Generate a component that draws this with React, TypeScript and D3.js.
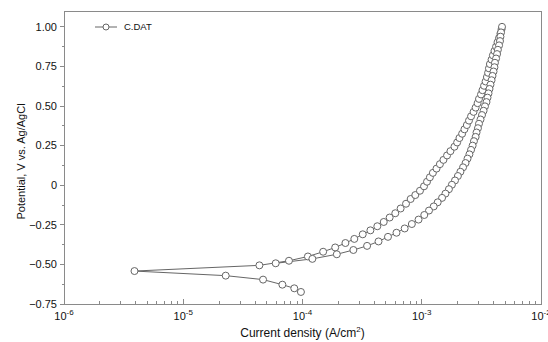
import { useEffect, useRef } from "react";
import * as d3 from "d3";

// cathodic start of the scan, towards the current minimum
const cathodicI = [9.7e-5, 8.53e-5, 6.78e-5, 4.67e-5, 2.27e-5, 3.9e-6];
const cathodicV = [-0.674, -0.651, -0.628, -0.596, -0.571, -0.542];

// forward (anodic) sweep, up to the vertex
const forwardI = [
  4.35e-5, 7.7e-5, 1.11e-4, 1.49e-4, 1.88e-4, 2.29e-4, 2.72e-4, 3.2e-4, 3.71e-4, 4.24e-4,
  4.8e-4, 5.38e-4, 6.0e-4, 6.65e-4, 7.38e-4, 8.07e-4, 8.83e-4, 9.66e-4, 1.045e-3, 1.107e-3,
  1.17e-3, 1.24e-3, 1.33e-3, 1.42e-3, 1.52e-3, 1.63e-3, 1.74e-3, 1.88e-3, 1.98e-3, 2.07e-3,
  2.18e-3, 2.28e-3, 2.39e-3, 2.49e-3, 2.59e-3, 2.72e-3, 2.83e-3, 2.94e-3, 3.02e-3, 3.14e-3,
  3.23e-3, 3.33e-3, 3.43e-3, 3.52e-3, 3.6e-3, 3.66e-3, 3.73e-3, 3.85e-3, 3.95e-3, 4.07e-3,
  4.2e-3, 4.32e-3, 4.45e-3, 4.57e-3, 4.67e-3, 4.71e-3,
];
const forwardV = [
  -0.506, -0.477, -0.45, -0.42, -0.393, -0.365, -0.339, -0.31, -0.285, -0.259,
  -0.232, -0.204, -0.177, -0.147, -0.117, -0.087, -0.062, -0.035, -0.007, 0.022,
  0.05, 0.078, 0.105, 0.133, 0.16, 0.188, 0.215, 0.243, 0.27, 0.298,
  0.325, 0.353, 0.38, 0.408, 0.435, 0.463, 0.49, 0.518, 0.545, 0.573,
  0.6, 0.628, 0.655, 0.683, 0.71, 0.738, 0.765, 0.793, 0.82, 0.848,
  0.875, 0.903, 0.93, 0.958, 0.985, 1.0,
];

// reverse sweep back down
const reverseI = [
  4.62e-3, 4.57e-3, 4.53e-3, 4.45e-3, 4.35e-3, 4.28e-3, 4.2e-3, 4.11e-3, 4.07e-3, 4.0e-3,
  3.92e-3, 3.85e-3, 3.77e-3, 3.7e-3, 3.63e-3, 3.56e-3, 3.49e-3, 3.39e-3, 3.3e-3, 3.2e-3,
  3.11e-3, 3.02e-3, 2.96e-3, 2.88e-3, 2.83e-3, 2.74e-3, 2.67e-3, 2.59e-3, 2.51e-3, 2.42e-3,
  2.33e-3, 2.22e-3, 2.11e-3, 2.01e-3, 1.9e-3, 1.79e-3, 1.69e-3, 1.58e-3, 1.48e-3, 1.36e-3,
  1.26e-3, 1.15e-3, 1.05e-3, 9.4e-4, 8.26e-4, 7.19e-4, 6.14e-4, 5.21e-4, 4.34e-4, 3.48e-4,
  2.67e-4, 1.94e-4, 1.21e-4, 5.96e-5,
];
const reverseV = [
  0.965, 0.938, 0.91, 0.883, 0.855, 0.828, 0.8, 0.773, 0.745, 0.718,
  0.69, 0.663, 0.635, 0.608, 0.58, 0.553, 0.525, 0.498, 0.47, 0.443,
  0.415, 0.388, 0.36, 0.333, 0.305, 0.278, 0.25, 0.223, 0.195, 0.168,
  0.14, 0.113, 0.085, 0.058, 0.03, 0.003, -0.025, -0.053, -0.08, -0.108,
  -0.134, -0.16, -0.188, -0.217, -0.245, -0.273, -0.3, -0.326, -0.355, -0.383,
  -0.409, -0.436, -0.465, -0.493, -0.525,
];

const yTicks = [-0.75, -0.5, -0.25, 0, 0.25, 0.5, 0.75, 1.0];
const xDecades = [-6, -5, -4, -3, -2];
const seriesName = "C.DAT";

const W = 548;
const H = 342;
const FONT = "'Liberation Sans', Arial, sans-serif";

export default function App() {
  const ref = useRef(null);

  useEffect(() => {
    const svg = d3.select(ref.current);
    svg.selectAll("*").remove();

    const left = 64, right = 541, top = 11, bottom = 304;

    const x = d3.scaleLog().domain([1e-6, 1e-2]).range([left, right]);
    const y = d3.scaleLinear().domain([-0.75, 1.1]).range([bottom, top]);

    const pts = [];
    cathodicI.forEach((d, i) => pts.push([d, cathodicV[i]]));
    forwardI.forEach((d, i) => pts.push([d, forwardV[i]]));
    reverseI.forEach((d, i) => pts.push([d, reverseV[i]]));

    const frame = "#8a8a8a";

    // frame
    svg.append("rect")
      .attr("x", left).attr("y", top)
      .attr("width", right - left).attr("height", bottom - top)
      .attr("fill", "none").attr("stroke", frame).attr("stroke-width", 1)
      .attr("shape-rendering", "crispEdges");

    // y axis ticks (outside)
    const yMinor = [];
    for (let i = 0; i < yTicks.length - 1; i++) yMinor.push((yTicks[i] + yTicks[i + 1]) / 2);
    yMinor.push(1.0 + 0.125 / 1);
    const g = svg.append("g").attr("shape-rendering", "crispEdges");
    g.selectAll(".ymaj").data(yTicks).join("line")
      .attr("x1", left - 4).attr("x2", left)
      .attr("y1", (d) => y(d)).attr("y2", (d) => y(d))
      .attr("stroke", frame);
    g.selectAll(".ymin").data(yMinor.filter((d) => d < 1.1)).join("line")
      .attr("x1", left - 2.5).attr("x2", left)
      .attr("y1", (d) => y(d)).attr("y2", (d) => y(d))
      .attr("stroke", frame);

    svg.append("g").selectAll("text").data(yTicks).join("text")
      .attr("x", left - 7).attr("y", (d) => y(d))
      .attr("dy", "0.35em")
      .attr("text-anchor", "end")
      .attr("font-family", FONT).attr("font-size", 11).attr("fill", "#111")
      .text((d) => (d === 0 ? "0" : d3.format(".2f")(d)));

    // x ticks (inside)
    const xMinor = [];
    for (let e = -6; e < -2; e++) for (let k = 2; k <= 9; k++) xMinor.push(k * Math.pow(10, e));
    g.selectAll(".xmaj").data(xDecades).join("line")
      .attr("x1", (d) => x(Math.pow(10, d))).attr("x2", (d) => x(Math.pow(10, d)))
      .attr("y1", bottom).attr("y2", bottom - 5)
      .attr("stroke", frame);
    g.selectAll(".xmin").data(xMinor).join("line")
      .attr("x1", (d) => x(d)).attr("x2", (d) => x(d))
      .attr("y1", bottom).attr("y2", bottom - 3.5)
      .attr("stroke", frame);

    const xl = svg.append("g").selectAll("text").data(xDecades).join("text")
      .attr("x", (d) => x(Math.pow(10, d)))
      .attr("y", bottom + 16)
      .attr("text-anchor", "middle")
      .attr("font-family", FONT).attr("font-size", 11).attr("fill", "#111");
    xl.append("tspan").text("10");
    xl.append("tspan").attr("dy", -5).attr("font-size", 8).text((d) => "" + d);

    // axis titles
    const xt = svg.append("text")
      .attr("x", (left + right) / 2).attr("y", 337)
      .attr("text-anchor", "middle")
      .attr("font-family", FONT).attr("font-size", 12).attr("fill", "#111");
    xt.append("tspan").text("Current density (A/cm");
    xt.append("tspan").attr("dy", -5).attr("font-size", 8).text("2");
    xt.append("tspan").attr("dy", 5).text(")");

    svg.append("text")
      .attr("transform", `translate(25,${(top + bottom) / 2 + 4}) rotate(-90)`)
      .attr("text-anchor", "middle")
      .attr("font-family", FONT).attr("font-size", 11).attr("fill", "#111")
      .text("Potential, V vs. Ag/AgCl");

    // curve
    const line = d3.line().x((d) => x(d[0])).y((d) => y(d[1]));
    svg.append("path").datum(pts)
      .attr("d", line)
      .attr("fill", "none").attr("stroke", "#666").attr("stroke-width", 1);

    svg.append("g").selectAll("circle").data(pts).join("circle")
      .attr("cx", (d) => x(d[0])).attr("cy", (d) => y(d[1]))
      .attr("r", 3.5)
      .attr("fill", "white").attr("stroke", "#666").attr("stroke-width", 1);

    // legend
    const lg = svg.append("g");
    lg.append("line").attr("x1", 95).attr("x2", 117).attr("y1", 27).attr("y2", 27)
      .attr("stroke", "#666");
    lg.append("circle").attr("cx", 106).attr("cy", 27).attr("r", 3)
      .attr("fill", "white").attr("stroke", "#666");
    lg.append("text").attr("x", 124).attr("y", 27).attr("dy", "0.35em")
      .attr("font-family", FONT).attr("font-size", 9.5).attr("fill", "#111")
      .text(seriesName);
  });

  return (
    <svg ref={ref} width={W} height={H}
      style={{ position: "absolute", left: 0, top: 0, background: "white" }} />
  );
}
